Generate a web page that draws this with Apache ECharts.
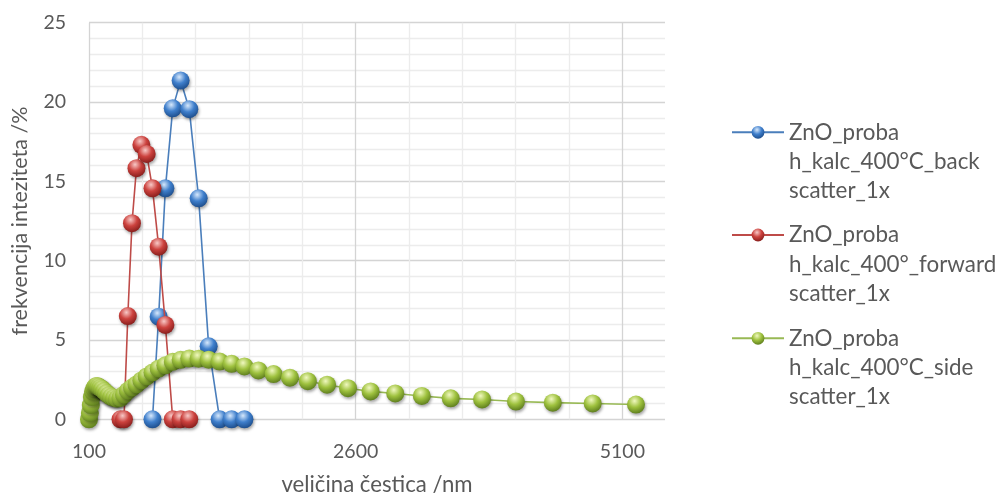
<!DOCTYPE html>
<html>
<head>
<meta charset="utf-8">
<script src="https://cdn.jsdelivr.net/npm/echarts@6/dist/echarts.min.js"></script>
<style>
html,body{margin:0;padding:0;background:#fff;}
#c{width:1000px;height:498px;}
</style>
</head>
<body>
<div id="c"></div>
<script>
// size bins (nm) and intensity frequency (%)
const backX = [695, 753, 816, 885, 959, 1040, 1128, 1222, 1325, 1437, 1557];
const backY = [0, 6.47, 14.56, 19.6, 21.35, 19.55, 13.93, 4.6, 0, 0, 0];

const forwardX = [395, 428, 464, 503, 545, 591, 641, 695, 753, 816, 885, 959, 1040];
const forwardY = [0, 0, 6.51, 12.36, 15.83, 17.3, 16.73, 14.56, 10.88, 5.95, 0, 0, 0];

const sideX = [100, 108, 117, 127, 138, 150, 162, 176, 191, 207, 224, 243, 264, 286, 310, 336, 364, 395, 428, 464,
  503, 545, 591, 641, 695, 753, 816, 885, 959, 1040, 1128, 1222, 1325, 1437, 1557, 1688, 1830, 1984, 2151, 2332,
  2528, 2740, 2971, 3220, 3491, 3785, 4103, 4448, 4822, 5228];
const sideY = [0, 0.4, 0.9, 1.4, 1.75, 1.95, 2.08, 2.1, 2.05, 1.98, 1.9, 1.78, 1.65, 1.52, 1.42, 1.35, 1.3, 1.35, 1.55, 1.8,
  2.0, 2.2, 2.45, 2.7, 2.95, 3.2, 3.4, 3.62, 3.75, 3.83, 3.82, 3.76, 3.64, 3.5, 3.33, 3.08, 2.85, 2.62, 2.4, 2.18,
  1.96, 1.76, 1.63, 1.47, 1.32, 1.25, 1.12, 1.05, 1.0, 0.93];

const seriesNames = [
  'ZnO_proba\nh_kalc_400°C_back\nscatter_1x',
  'ZnO_proba\nh_kalc_400°_forward\nscatter_1x',
  'ZnO_proba\nh_kalc_400°C_side\nscatter_1x'
];
const xTickLabels = [100, 2600, 5100];
const yTickLabels = [0, 5, 10, 15, 20, 25];

function zip(xs, ys) { return xs.map((x, i) => [x, ys[i]]); }
function sphere(light, base, dark) {
  return {type: 'radial', x: 0.42, y: 0.3, r: 0.72,
    colorStops: [{offset: 0, color: light}, {offset: 0.5, color: base}, {offset: 1, color: dark}]};
}
const FONT = 'Lato';
const TXT = '#595959';

const styles = [
  {line: '#4a7ebb', fill: sphere('#d6e8fc', '#3f7fcc', '#1c4c8a')},
  {line: '#be4b48', fill: sphere('#f8c8c6', '#cc423e', '#861d1b')},
  {line: '#98b954', fill: sphere('#f0f8bf', '#9fc23f', '#5c7c1c')}
];
const datas = [zip(backX, backY), zip(forwardX, forwardY), zip(sideX, sideY)];

const series = datas.map((d, i) => ({
  name: seriesNames[i],
  type: 'line',
  data: d,
  symbol: 'circle',
  symbolSize: 18,
  showAllSymbol: true,
  lineStyle: {color: styles[i].line, width: 1.6},
  itemStyle: {color: styles[i].fill, borderWidth: 0,
    shadowBlur: 3, shadowOffsetX: 1, shadowOffsetY: 2, shadowColor: 'rgba(0,0,0,0.35)'},
  emphasis: {disabled: true},
  z: 2 + i
}));

const legendTops = [132.3, 235, 338.3];
const LH = 29.3;
const legends = seriesNames.map((n, i) => ({
  data: [n],
  left: 731,
  top: legendTops[i] - (5 * LH) / 2,
  padding: 0,
  itemWidth: 52,
  itemHeight: 16,
  selectedMode: false,
  formatter: name => '\n\n' + name,
  textStyle: {fontFamily: FONT, fontSize: 22.4, color: TXT, lineHeight: LH}
}));

const chart = echarts.init(document.getElementById('c'), null, {renderer: 'canvas'});
chart.setOption({
  animation: false,
  backgroundColor: '#ffffff',
  grid: {left: 89, right: 335, top: 22.7, bottom: 78.7, containLabel: false, outerBoundsMode: 'none'},
  xAxis: {
    type: 'value', min: 100, max: 5500, interval: 500,
    name: 'veličina čestica /nm', nameLocation: 'middle', nameGap: 55,
    nameTextStyle: {fontFamily: FONT, fontSize: 22.2, color: TXT},
    axisLine: {show: false}, axisTick: {show: false},
    axisLabel: {fontFamily: FONT, fontSize: 19.5, color: TXT, margin: 22,
      formatter: v => (xTickLabels.indexOf(v) >= 0 ? String(v) : '')},
    splitLine: {show: true, showMinLine: true, showMaxLine: false,
      lineStyle: {color: ['#d4d4d4', '#ececec', '#ececec', '#ececec', '#ececec'], width: 1.3}}
  },
  yAxis: {
    type: 'value', min: 0, max: 25, interval: 1,
    name: 'frekvencija inteziteta /%', nameLocation: 'middle', nameGap: 58, nameRotate: 90,
    nameTextStyle: {fontFamily: FONT, fontSize: 21.5, color: TXT},
    axisLine: {show: false}, axisTick: {show: false},
    axisLabel: {fontFamily: FONT, fontSize: 19.5, color: TXT, margin: 23,
      formatter: v => (yTickLabels.indexOf(v) >= 0 ? String(v) : '')},
    splitLine: {show: true, showMinLine: true, showMaxLine: true,
      lineStyle: {color: ['#d4d4d4', '#ececec', '#ececec', '#ececec', '#ececec'], width: 1.3}}
  },
  legend: legends,
  series: series
});
</script>
</body>
</html>
